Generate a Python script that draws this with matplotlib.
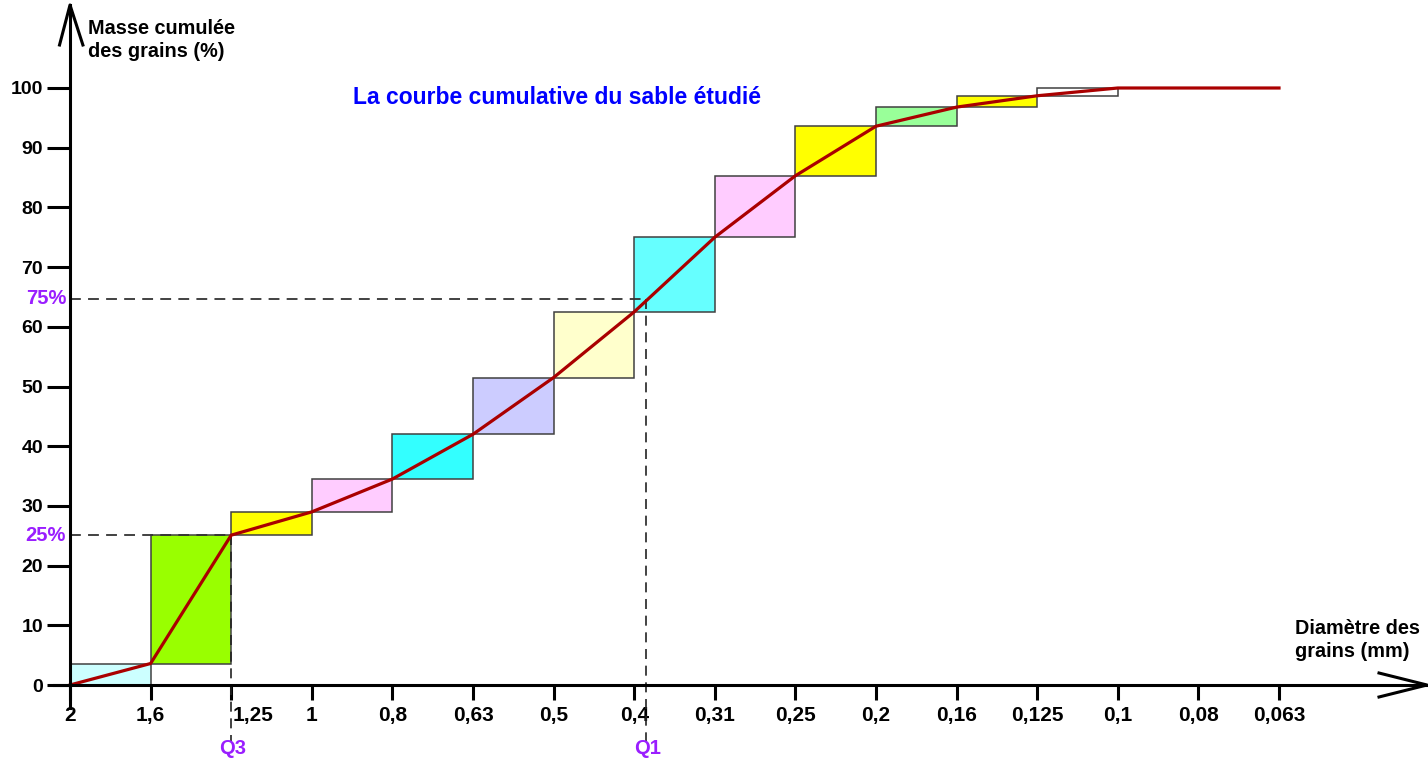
import matplotlib
matplotlib.use("Agg")
import matplotlib.pyplot as plt
from matplotlib.patches import Rectangle
from matplotlib.transforms import ScaledTranslation

plt.rcParams['font.family'] = ['Liberation Sans', 'DejaVu Sans']
plt.rcParams['font.weight'] = 'bold'

# sieve openings (mm), read left to right as on the chart
sieves = ["2", "1,6", "1,25", "1", "0,8", "0,63", "0,5", "0,4", "0,31",
          "0,25", "0,2", "0,16", "0,125", "0,1", "0,08", "0,063"]
# cumulative mass (%) at each sieve
cumul = [0, 3.6, 25.1, 29.0, 34.5, 42.0, 51.5, 62.5, 75.0,
         85.3, 93.6, 96.8, 98.7, 100, 100, 100]
# fill colour of each step box (between sieve i and i+1)
box_colors = ["#ccffff", "#99ff00", "#ffff00", "#ffccff", "#33ffff", "#ccccff",
              "#ffffcc", "#66ffff", "#ffccff", "#ffff00", "#99ff99", "#ffff00",
              "#ffffff"]
y_ticks = [0, 10, 20, 30, 40, 50, 60, 70, 80, 90, 100]

# quartile read-off lines
quart_names = ["Q3", "Q1"]
quart_labels = ["25%", "75%"]
quart_levels = [25.1, 64.7]
quart_x = [2.0, 7.15]

PURPLE = "#9a1eff"
W, H = 1428, 758
X0, DX = 70, 80.6      # pixel of first sieve, spacing
Y0, DY = 685, 5.97     # pixel of 0 %, pixels per %

fig = plt.figure(figsize=(W / 100, H / 100), dpi=100)
ax = fig.add_axes([0, 0, 1, 1])
ax.set_xlim(-X0 / DX, (W - X0) / DX)
ax.set_ylim(-(H - Y0) / DY, Y0 / DY)

# step boxes
for i, c in enumerate(box_colors):
    ax.add_patch(Rectangle((i, cumul[i]), 1, cumul[i + 1] - cumul[i],
                           facecolor=c, edgecolor="#404040", lw=1.1, zorder=2))

# cumulative curve
ax.plot(range(len(sieves)), cumul, color="#aa0000", lw=2.3, zorder=4,
        solid_joinstyle="round")

# quartile dashed lines and labels
for name, lab, lev, xq in zip(quart_names, quart_labels, quart_levels, quart_x):
    ax.plot([0, xq], [lev, lev], color="#333333", lw=1.3, dashes=(6, 4), zorder=3)
    ax.plot([xq, xq], [lev, -9.3], color="#222222", lw=1.2, dashes=(6, 4),
            zorder=3, clip_on=False)
    ax.text(-0.3, lev, lab, color=PURPLE, fontsize=14.5, ha="center",
            va="center", fontweight="bold")
    ax.text(xq + 0.02, -10.6, name, color=PURPLE, fontsize=14.5, ha="center",
            va="center", fontweight="bold")

# axes as arrows
for s in ["top", "right"]:
    ax.spines[s].set_visible(False)
ax.spines["left"].set_position(("data", 0))
ax.spines["bottom"].set_position(("data", 0))
ax.spines["left"].set_linewidth(2.2)
ax.spines["bottom"].set_linewidth(2.2)
ax.spines["left"].set_bounds(-3.8, (Y0 - 5) / DY)
ax.spines["bottom"].set_bounds(-0.2, (W - X0 - 1) / DX)
ax.spines["left"].set_zorder(5)
ax.spines["bottom"].set_zorder(5)

# arrowheads (open chevrons)
top = (Y0 - 5) / DY
ax.plot([-0.13, 0, 0.16], [top - 40 / DY, top, top - 40 / DY], color="black",
        lw=2.2, clip_on=False, zorder=5)
xr = (W - X0 - 1) / DX
ax.plot([xr - 48 / DX, xr, xr - 48 / DX], [12 / DY, 0, -12 / DY], color="black",
        lw=2.2, clip_on=False, zorder=5)

ax.set_xticks(range(len(sieves)))
ax.set_xticklabels(sieves)
ax.set_yticks(y_ticks)
ax.set_yticklabels([str(v) for v in y_ticks])
ax.tick_params(axis="x", direction="out", length=11, width=2.2, pad=4,
               labelsize=15)
ax.tick_params(axis="y", direction="out", length=16.5, width=2.2, pad=3,
               labelsize=14)
for t in ax.get_xticklabels() + ax.get_yticklabels():
    t.set_fontweight("bold")
# the "1,25" label sits to the right of the Q3 dashed line
lab125 = ax.xaxis.get_major_ticks()[2].label1
lab125.set_transform(lab125.get_transform() + ScaledTranslation(0.22, 0, fig.dpi_scale_trans))

# texts
ax.text(88 / DX - X0 / DX, (Y0 - 40) / DY, "Masse cumulée\ndes grains (%)",
        fontsize=14.3, fontweight="bold", ha="left", va="center",
        linespacing=1.3)
ax.text((1295 - X0) / DX, (Y0 - 640) / DY, "Diamètre des\ngrains (mm)",
        fontsize=14.3, fontweight="bold", ha="left", va="center",
        linespacing=1.3)
ax.text((557 - X0) / DX, (Y0 - 98) / DY, "La courbe cumulative du sable étudié",
        fontsize=16.5, fontweight="bold", color="#0000ff", ha="center",
        va="center")

fig.savefig("out.png", dpi=100)
